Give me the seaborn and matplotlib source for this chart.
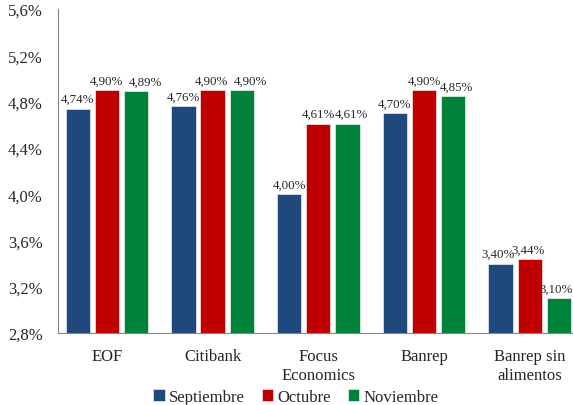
import pandas as pd
import matplotlib.pyplot as plt
import seaborn as sns

# Data
categories = ["EOF", "Citibank", "Focus\nEconomics", "Banrep", "Banrep sin\nalimentos"]
series = ["Septiembre", "Octubre", "Noviembre"]
septiembre = [4.74, 4.76, 4.00, 4.70, 3.40]
octubre = [4.90, 4.90, 4.61, 4.90, 3.44]
noviembre = [4.89, 4.90, 4.61, 4.85, 3.10]
yticks = [2.8, 3.2, 3.6, 4.0, 4.4, 4.8, 5.2, 5.6]

colors = ["#1F497D", "#C00000", "#00823B"]

# Long-form table for seaborn
rows = []
for s, vals in zip(series, [septiembre, octubre, noviembre]):
    for c, v in zip(categories, vals):
        rows.append({"Entidad": c, "Serie": s, "Valor": v})
df = pd.DataFrame(rows)

sns.set_style("white")
plt.rcParams['font.family'] = ['Liberation Serif', 'DejaVu Serif']

fig = plt.figure(figsize=(5.73, 4.06), dpi=100)
ax = fig.add_axes([58 / 573, 72 / 406, 515 / 573, 324 / 406])

sns.barplot(data=df, x="Entidad", y="Valor", hue="Serie", palette=colors,
            saturation=1, width=0.83, gap=0.17, ax=ax,
            edgecolor="white", linewidth=0.4)

# Data labels (Excel nudges crowded labels sideways, horizontal offsets in points)
label_shift = [
    [0, 0, 0, 0, -1.5],
    [-0.7, -0.7, 0, 0, -1],
    [6.5, 6.5, 3, 2.2, -2],
]
for container, shifts in zip(ax.containers, label_shift):
    for bar, v, dx in zip(container, container.datavalues, shifts):
        ax.annotate(f"{v:.2f}%".replace(".", ","),
                    (bar.get_x() + bar.get_width() / 2, bar.get_height()),
                    xytext=(dx, 2.5), textcoords="offset points",
                    ha="center", va="bottom", fontsize=9.3)

ax.set_ylim(2.8, 5.6)
ax.set_yticks(yticks)
ax.set_yticklabels([f"{t:.1f}%".replace(".", ",") for t in yticks], fontsize=12)
ax.set_xlim(-0.463, 4.41)
ax.tick_params(axis="x", labelsize=12, length=0, pad=11)
ax.tick_params(axis="y", length=0, pad=11)
ax.set_xlabel("")
ax.set_ylabel("")

for side in ["top", "right"]:
    ax.spines[side].set_visible(False)
ax.spines["left"].set_color("#868686")
ax.spines["bottom"].set_color("#868686")

ax.legend(loc="center", bbox_to_anchor=(0.462, -0.197), ncol=3, frameon=False,
          fontsize=12, handlelength=0.7, handleheight=0.7, handletextpad=0.25,
          columnspacing=1.0, borderaxespad=0)

fig.savefig("out.png", dpi=100)
